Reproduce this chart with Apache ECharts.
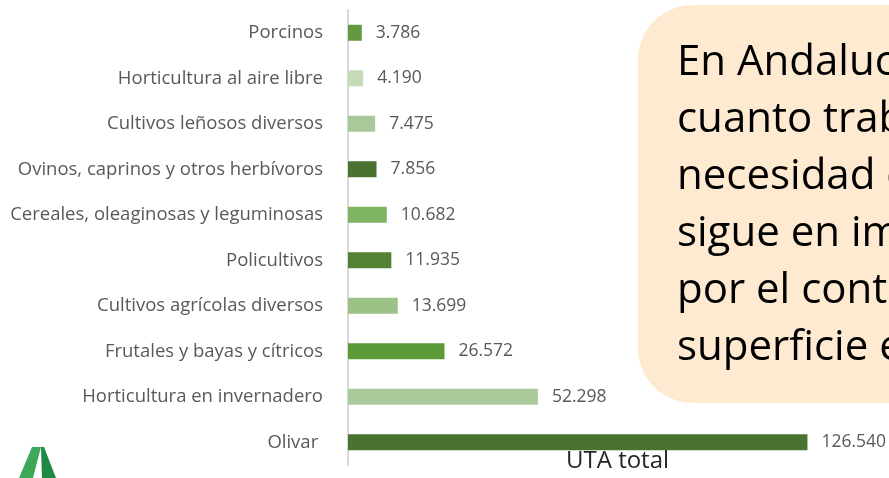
<!DOCTYPE html>
<html>
<head>
<meta charset="utf-8">
<script src="https://cdn.jsdelivr.net/npm/echarts@6/dist/echarts.min.js"></script>
<style>
  html, body { margin: 0; padding: 0; background: #fff; }
  #main { width: 889px; height: 478px; }
</style>
</head>
<body>
<div id="main"></div>
<script>
// categorias, de arriba a abajo
const categories = [
  'Porcinos',
  'Horticultura al aire libre',
  'Cultivos leñosos diversos',
  'Ovinos, caprinos y otros herbívoros',
  'Cereales, oleaginosas y leguminosas',
  'Policultivos',
  'Cultivos agrícolas diversos',
  'Frutales y bayas y cítricos',
  'Horticultura en invernadero',
  'Olivar '
];
const utaTotal = [3786, 4190, 7475, 7856, 10682, 11935, 13699, 26572, 52298, 126540];
const barColors = ['#62993e', '#c4dbb6', '#a9c99b', '#4a7230', '#7db562', '#548235', '#9cc288', '#5b9a37', '#abca9c', '#4a7330'];
const boxLines = ['En Andalucía, en', 'cuanto trabajo', 'necesidad de', 'sigue en importancia', 'por el contrario', 'superficie en'];

// separador de miles con punto
function fmt(v) {
  return String(v).replace(/\B(?=(\d{3})+(?!\d))/g, '.');
}

const chart = echarts.init(document.getElementById('main'), null, { renderer: 'canvas' });

const option = {
  animation: false,
  textStyle: { fontFamily: 'Open Sans' },
  grid: { left: 348, top: 10, width: 541, height: 455, containLabel: false },
  xAxis: {
    type: 'value',
    min: 0,
    max: 149000,
    axisLine: { show: false },
    axisTick: { show: false },
    axisLabel: { show: false },
    splitLine: { show: false }
  },
  yAxis: {
    type: 'category',
    inverse: true,
    data: categories,
    axisLine: { show: true, lineStyle: { color: '#d9d9d9', width: 2 } },
    axisTick: { show: false },
    axisLabel: { color: '#595959', fontSize: 18.5, margin: 25 }
  },
  series: [{
    type: 'bar',
    barWidth: 16,
    data: utaTotal.map((v, i) => ({ value: v, itemStyle: { color: barColors[i] } })),
    label: {
      show: true,
      position: 'right',
      distance: 14,
      color: '#595959',
      fontSize: 17.5,
      formatter: p => fmt(p.value)
    }
  }],
  graphic: [
    {
      type: 'text',
      left: 566,
      top: 449,
      style: { text: 'UTA total', fill: '#262626', font: '24px "Open Sans"' }
    },
    {
      type: 'rect',
      z: 100,
      shape: { x: 638, y: 5, width: 320, height: 398, r: 55 },
      style: { fill: '#fdead0' }
    }
  ].concat(boxLines.map((t, i) => ({
    type: 'text',
    z: 101,
    x: 677,
    y: 42 + i * 57,
    style: { text: t, fill: '#000', font: '42px "Open Sans"' }
  }))).concat([
    {
      type: 'polygon',
      shape: { points: [[32, 447], [41, 447], [33, 478], [19, 478]] },
      style: { fill: '#3ea85a' }
    },
    {
      type: 'polygon',
      shape: { points: [[41, 447], [44, 447], [56, 478], [42, 478]] },
      style: { fill: '#1f8a45' }
    }
  ])
};

chart.setOption(option);
</script>
</body>
</html>
